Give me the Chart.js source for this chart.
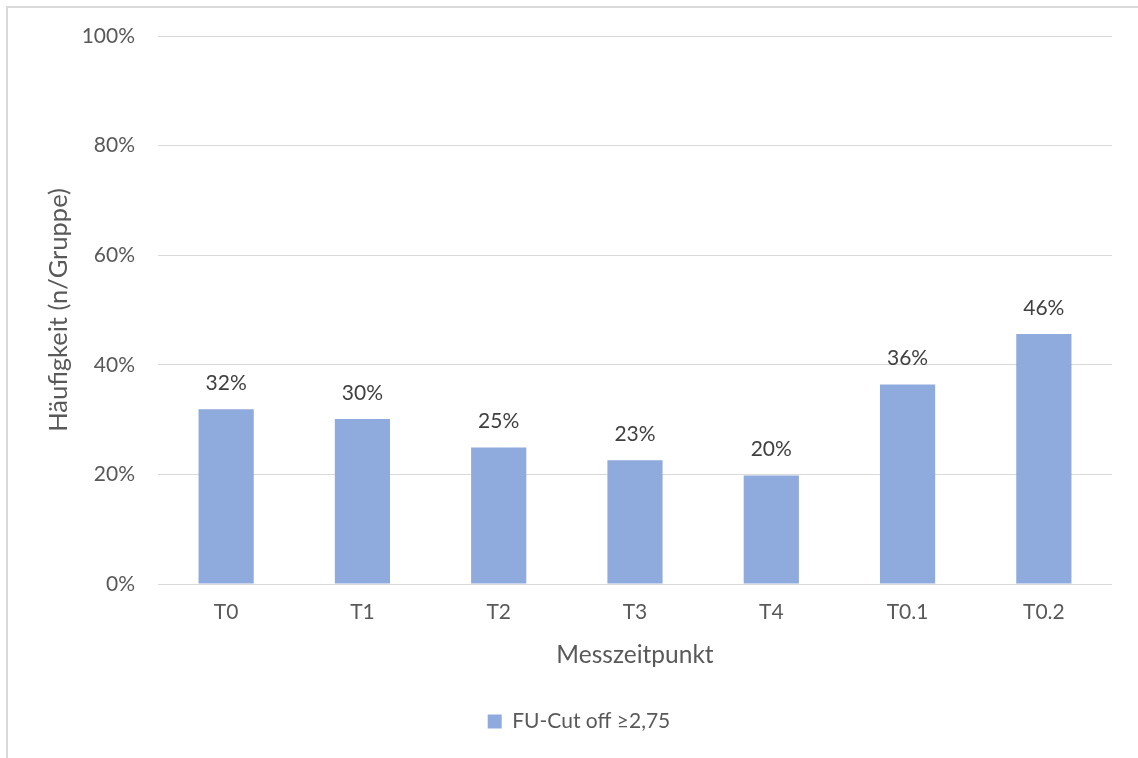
<!DOCTYPE html>
<html>
<head>
<meta charset="utf-8">
<script src="https://cdn.jsdelivr.net/npm/chart.js@4/dist/chart.umd.min.js"></script>
<style>
  html, body { margin: 0; padding: 0; background: #ffffff; }
  #wrap { position: relative; width: 1138px; height: 758px; }
</style>
</head>
<body>
<div id="wrap"><canvas id="c" width="1138" height="758"></canvas></div>
<script>
const categories = ['T0', 'T1', 'T2', 'T3', 'T4', 'T0.1', 'T0.2'];
const seriesName = 'FU-Cut off \u22652,75';
const seriesValues = [0.319, 0.301, 0.249, 0.226, 0.198, 0.364, 0.456];
const yTickValues = [0, 0.2, 0.4, 0.6, 0.8, 1.0];
const yTitle = 'H\u00e4ufigkeit (n/Gruppe)';
const xTitle = 'Messzeitpunkt';

const FONT = 'Lato, "Open Sans", sans-serif';

const frame = {
  id: 'frame',
  beforeDraw(chart) {
    const ctx = chart.ctx;
    ctx.save();
    ctx.fillStyle = '#ffffff';
    ctx.fillRect(0, 0, chart.width, chart.height);
    ctx.strokeStyle = '#D9D9D9';
    ctx.lineWidth = 2;
    ctx.strokeRect(7, 7, chart.width + 50, chart.height + 50);
    ctx.restore();
  }
};

const valueLabels = {
  id: 'valueLabels',
  afterDatasetsDraw(chart) {
    const ctx = chart.ctx;
    const meta = chart.getDatasetMeta(0);
    ctx.save();
    ctx.font = '21px ' + FONT;
    ctx.fillStyle = '#404040';
    ctx.textAlign = 'center';
    ctx.textBaseline = 'middle';
    meta.data.forEach((bar, i) => {
      const v = chart.data.datasets[0].data[i];
      ctx.fillText(Math.round(v * 100) + '%', bar.x, bar.y - 26);
    });
    ctx.restore();
  }
};

new Chart(document.getElementById('c'), {
  type: 'bar',
  data: {
    labels: categories,
    datasets: [{
      label: seriesName,
      data: seriesValues,
      backgroundColor: '#8FAADC',
      borderWidth: 0,
      barPercentage: 0.405,
      categoryPercentage: 1.0
    }]
  },
  options: {
    responsive: false,
    animation: false,
    devicePixelRatio: 1,
    layout: { padding: { left: 46, right: 26, top: 36, bottom: 16 } },
    plugins: {
      legend: {
        display: true,
        position: 'bottom',
        labels: {
          color: '#595959',
          font: { family: FONT, size: 21 },
          boxWidth: 14,
          boxHeight: 14,
          padding: 10
        }
      },
      tooltip: { enabled: false },
      title: { display: false }
    },
    scales: {
      x: {
        grid: { display: false, drawTicks: false },
        border: { display: false },
        ticks: {
          color: '#595959',
          font: { family: FONT, size: 21 },
          padding: 16
        },
        title: {
          display: true,
          text: xTitle,
          color: '#595959',
          font: { family: FONT, size: 24.5 },
          padding: { top: 0, bottom: 31 }
        },
        afterFit(scale) { scale.height = 117; }
      },
      y: {
        min: 0,
        max: 1,
        afterBuildTicks(scale) { scale.ticks = yTickValues.map(v => ({ value: v })); },
        grid: { color: '#D9D9D9', lineWidth: 1, drawTicks: false },
        border: { display: false },
        ticks: {
          color: '#595959',
          font: { family: FONT, size: 21 },
          padding: 23,
          callback: (v) => Math.round(v * 100) + '%'
        },
        title: {
          display: true,
          text: yTitle,
          color: '#595959',
          font: { family: FONT, size: 25.5, lineHeight: 1.0 },
          padding: { top: 0, bottom: 0 }
        },
        afterFit(scale) { scale.width = 112; }
      }
    }
  },
  plugins: [frame, valueLabels]
});
</script>
</body>
</html>
